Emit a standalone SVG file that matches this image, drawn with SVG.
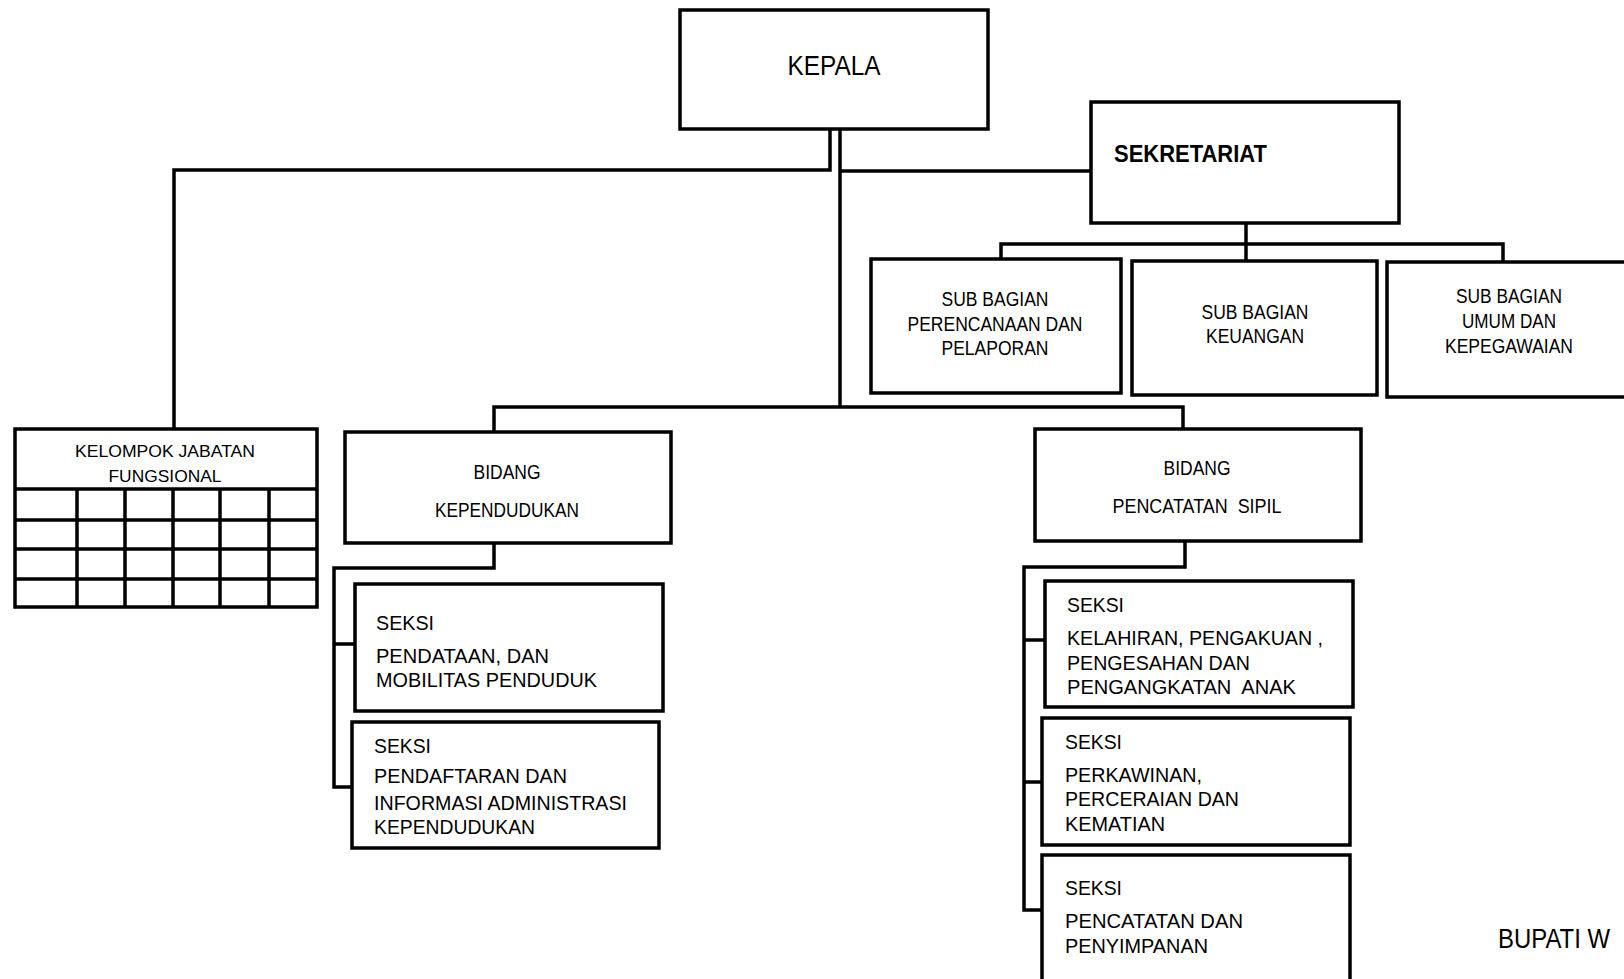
<svg xmlns="http://www.w3.org/2000/svg" width="1624" height="979" viewBox="0 0 1624 979">
<style>
rect.b{fill:#fff;stroke:#000;stroke-width:3.5}
.c line,.c polyline{stroke:#000;stroke-width:3.5;fill:none}
text{font-family:"Liberation Sans Narrow","Liberation Sans",Arial,sans-serif;fill:#000;white-space:pre}
.s19{font-size:19.5px}
.s17{font-size:17px}
.s21{font-size:21px}
.m{text-anchor:middle}
</style>
<rect width="1624" height="979" fill="#fff"/>
<g class="c" id="connectors">
<polyline points="830,129 830,170 174,170 174,428"/>
<line x1="840" y1="129" x2="840" y2="407"/>
<line x1="840" y1="171" x2="1091" y2="171"/>
<polyline points="494,432 494,407 1183,407 1183,429"/>
<line x1="1246" y1="223" x2="1246" y2="261"/>
<polyline points="1001,259 1001,244 1503,244 1503,262"/>
<polyline points="494,543 494,568 334,568 334,787 352,787"/>
<line x1="334" y1="644" x2="355" y2="644"/>
<polyline points="1185,541 1185,567 1024,567 1024,910 1042,910"/>
<line x1="1024" y1="640" x2="1045" y2="640"/>
<line x1="1024" y1="782" x2="1042" y2="782"/>
</g>
<g id="kepala">
<rect class="b" x="680" y="10" width="308" height="119"/>
<text x="834" y="75" class="m" font-size="28" textLength="93" lengthAdjust="spacingAndGlyphs">KEPALA</text>
</g>
<g id="sekretariat">
<rect class="b" x="1091" y="102" width="308" height="121"/>
<text x="1114" y="162" font-size="23" font-weight="bold" textLength="153" lengthAdjust="spacingAndGlyphs">SEKRETARIAT</text>
</g>
<g id="sub-perencanaan">
<rect class="b" x="871" y="259" width="250" height="134"/>
<text class="s19 m" x="995" y="306" textLength="107" lengthAdjust="spacingAndGlyphs">SUB BAGIAN</text>
<text class="s19 m" x="995" y="331" textLength="175" lengthAdjust="spacingAndGlyphs">PERENCANAAN DAN</text>
<text class="s19 m" x="995" y="355" textLength="107" lengthAdjust="spacingAndGlyphs">PELAPORAN</text>
</g>
<g id="sub-keuangan">
<rect class="b" x="1132" y="261" width="245" height="134"/>
<text class="s19 m" x="1255" y="319" textLength="107" lengthAdjust="spacingAndGlyphs">SUB BAGIAN</text>
<text class="s19 m" x="1255" y="343" textLength="98" lengthAdjust="spacingAndGlyphs">KEUANGAN</text>
</g>
<g id="sub-umum">
<rect class="b" x="1387" y="262" width="260" height="135"/>
<text class="s19 m" x="1509" y="303" textLength="106" lengthAdjust="spacingAndGlyphs">SUB BAGIAN</text>
<text class="s19 m" x="1509" y="328" textLength="94" lengthAdjust="spacingAndGlyphs">UMUM DAN</text>
<text class="s19 m" x="1509" y="353" textLength="128" lengthAdjust="spacingAndGlyphs">KEPEGAWAIAN</text>
</g>
<g id="kelompok-jabatan-fungsional">
<rect class="b" x="15" y="429" width="302" height="178"/>
<g stroke="#000" stroke-width="3.5">
<line x1="15" y1="489" x2="317" y2="489"/>
<line x1="15" y1="520" x2="317" y2="520"/>
<line x1="15" y1="549" x2="317" y2="549"/>
<line x1="15" y1="579" x2="317" y2="579"/>
<line x1="77" y1="489" x2="77" y2="607"/>
<line x1="125" y1="489" x2="125" y2="607"/>
<line x1="173" y1="489" x2="173" y2="607"/>
<line x1="220" y1="489" x2="220" y2="607"/>
<line x1="269" y1="489" x2="269" y2="607"/>
</g>
<text class="s17 m" x="165" y="457" textLength="180" lengthAdjust="spacingAndGlyphs">KELOMPOK JABATAN</text>
<text class="s17 m" x="165" y="482" textLength="113" lengthAdjust="spacingAndGlyphs">FUNGSIONAL</text>
</g>
<g id="bidang-kependudukan">
<rect class="b" x="345" y="432" width="326" height="111"/>
<text class="s19 m" x="507" y="479" textLength="67" lengthAdjust="spacingAndGlyphs">BIDANG</text>
<text class="s19 m" x="507" y="517" textLength="144" lengthAdjust="spacingAndGlyphs">KEPENDUDUKAN</text>
</g>
<g id="seksi-pendataan">
<rect class="b" x="355" y="584" width="308" height="127"/>
<text class="s21" x="376" y="630" textLength="58" lengthAdjust="spacingAndGlyphs">SEKSI</text>
<text class="s21" x="376" y="663" textLength="173" lengthAdjust="spacingAndGlyphs">PENDATAAN, DAN</text>
<text class="s21" x="376" y="687" textLength="221" lengthAdjust="spacingAndGlyphs">MOBILITAS PENDUDUK</text>
</g>
<g id="seksi-pendaftaran">
<rect class="b" x="352" y="722" width="307" height="126"/>
<text class="s21" x="374" y="753" textLength="57" lengthAdjust="spacingAndGlyphs">SEKSI</text>
<text class="s21" x="374" y="783" textLength="193" lengthAdjust="spacingAndGlyphs">PENDAFTARAN DAN</text>
<text class="s21" x="374" y="810" textLength="253" lengthAdjust="spacingAndGlyphs">INFORMASI ADMINISTRASI</text>
<text class="s21" x="374" y="834" textLength="161" lengthAdjust="spacingAndGlyphs">KEPENDUDUKAN</text>
</g>
<g id="bidang-pencatatan-sipil">
<rect class="b" x="1035" y="429" width="326" height="112"/>
<text class="s19 m" x="1197" y="475" textLength="67" lengthAdjust="spacingAndGlyphs">BIDANG</text>
<text class="s19 m" x="1197" y="513" textLength="169" lengthAdjust="spacingAndGlyphs">PENCATATAN  SIPIL</text>
</g>
<g id="seksi-kelahiran">
<rect class="b" x="1045" y="581" width="308" height="126"/>
<text class="s21" x="1067" y="612" textLength="57" lengthAdjust="spacingAndGlyphs">SEKSI</text>
<text class="s21" x="1067" y="645" textLength="256" lengthAdjust="spacingAndGlyphs">KELAHIRAN, PENGAKUAN ,</text>
<text class="s21" x="1067" y="670" textLength="183" lengthAdjust="spacingAndGlyphs">PENGESAHAN DAN</text>
<text class="s21" x="1067" y="694" textLength="229" lengthAdjust="spacingAndGlyphs">PENGANGKATAN  ANAK</text>
</g>
<g id="seksi-perkawinan">
<rect class="b" x="1042" y="718" width="308" height="127"/>
<text class="s21" x="1065" y="749" textLength="57" lengthAdjust="spacingAndGlyphs">SEKSI</text>
<text class="s21" x="1065" y="782" textLength="137" lengthAdjust="spacingAndGlyphs">PERKAWINAN,</text>
<text class="s21" x="1065" y="806" textLength="174" lengthAdjust="spacingAndGlyphs">PERCERAIAN DAN</text>
<text class="s21" x="1065" y="831" textLength="100" lengthAdjust="spacingAndGlyphs">KEMATIAN</text>
</g>
<g id="seksi-pencatatan">
<rect class="b" x="1042" y="855" width="308" height="140"/>
<text class="s21" x="1065" y="895" textLength="57" lengthAdjust="spacingAndGlyphs">SEKSI</text>
<text class="s21" x="1065" y="928" textLength="178" lengthAdjust="spacingAndGlyphs">PENCATATAN DAN</text>
<text class="s21" x="1065" y="953" textLength="143" lengthAdjust="spacingAndGlyphs">PENYIMPANAN</text>
</g>
<text x="1498" y="948" font-size="27" textLength="112" lengthAdjust="spacingAndGlyphs">BUPATI W</text>
</svg>
